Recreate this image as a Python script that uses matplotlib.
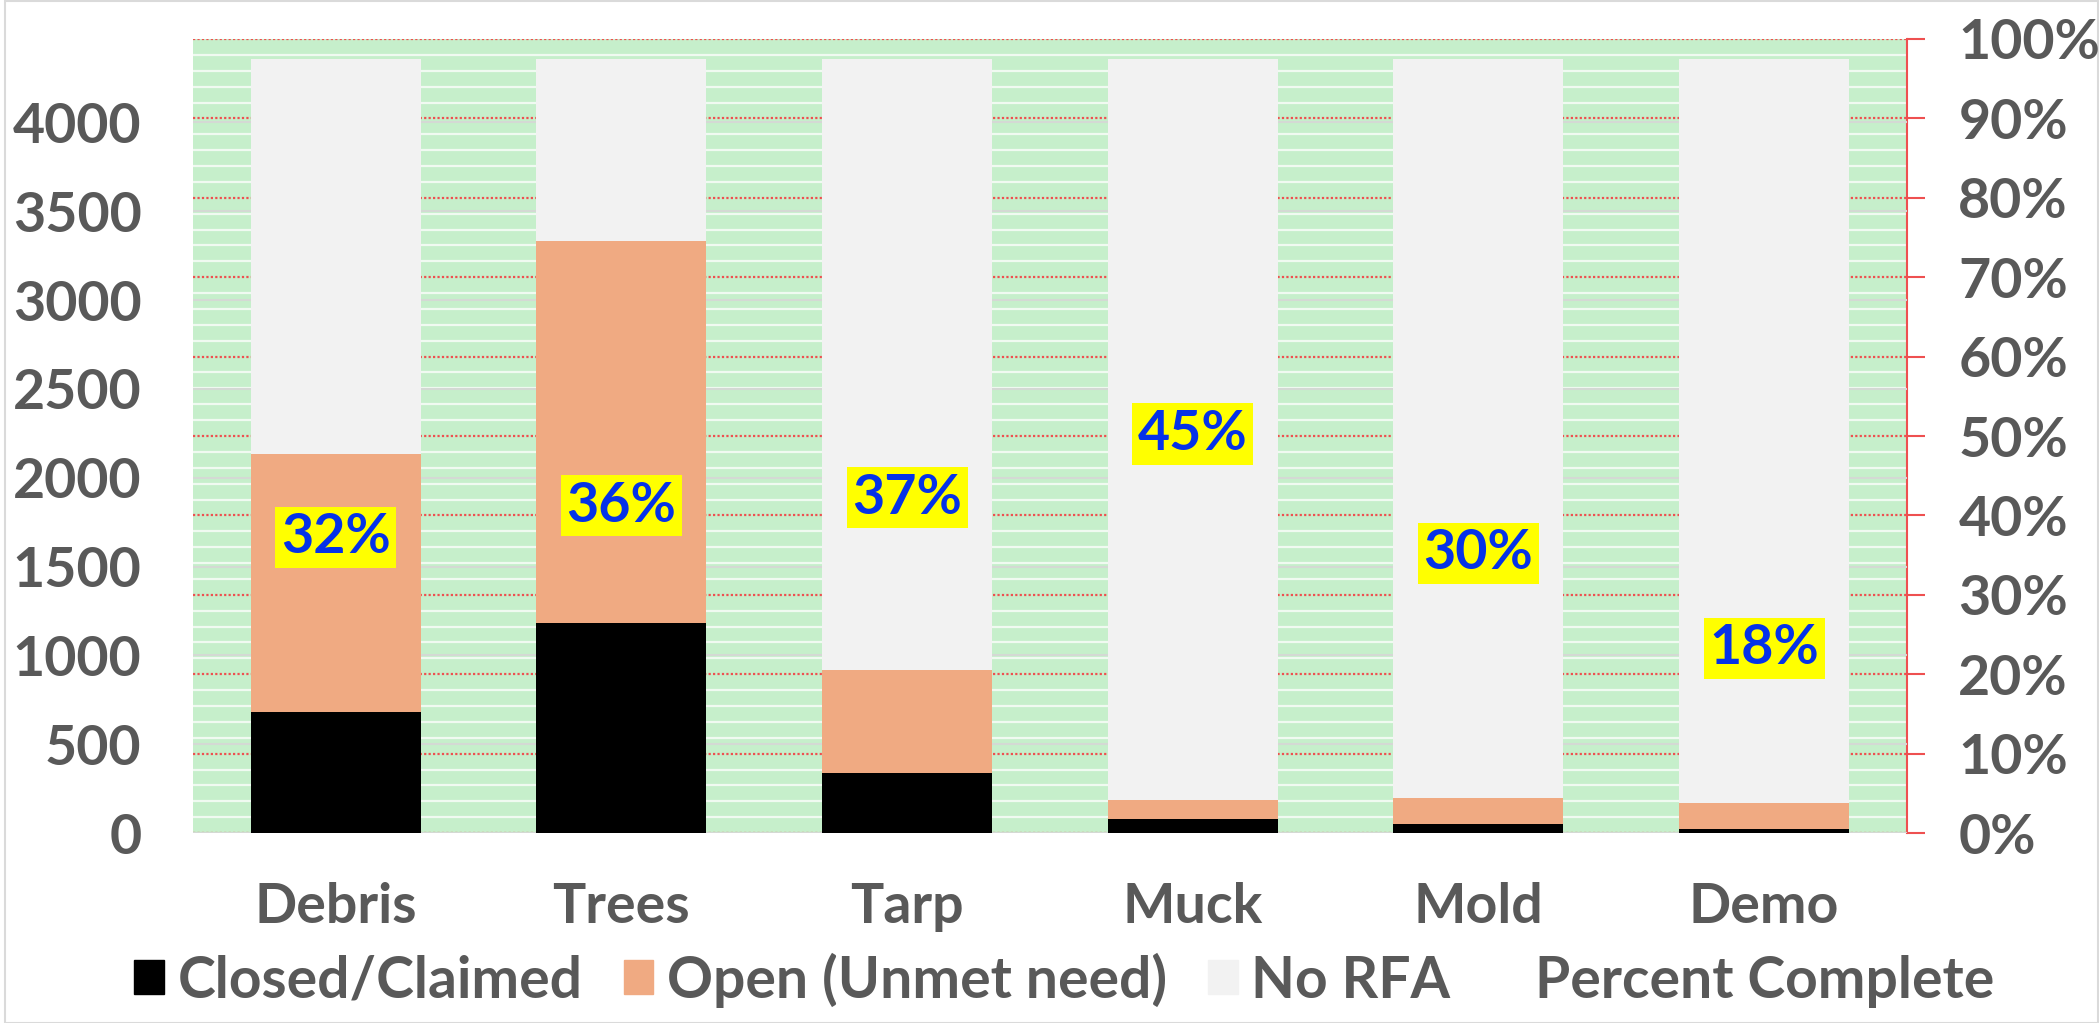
import matplotlib
matplotlib.use("Agg")
import matplotlib.pyplot as plt
import numpy as np
from matplotlib.lines import Line2D
from matplotlib.patches import Patch, Rectangle
from matplotlib.ticker import MultipleLocator, PercentFormatter

# values
categories = ["Debris", "Trees", "Tarp", "Muck", "Mold", "Demo"]
closed = [682, 1185, 336, 81, 53, 21]
open_need = [1449, 2148, 581, 103, 143, 146]
total_homes = 4355
percent_complete = [0.32, 0.36, 0.37, 0.45, 0.30, 0.18]
percent_labels = ["32%", "36%", "37%", "45%", "30%", "18%"]
legend_labels = ["Closed/Claimed", "Open (Unmet need)", "No RFA", "Percent Complete"]

closed = np.array(closed)
open_need = np.array(open_need)
no_rfa = total_homes - closed - open_need

GREY = "#595959"
RED = "#ee5050"
FS = 40

plt.rcParams["font.family"] = ["Lato", "DejaVu Sans"]
plt.rcParams["font.weight"] = "bold"

fig = plt.figure(figsize=(20.99, 10.23), dpi=100)
ax = fig.add_axes([0.0919, 0.1857, 0.8166, 0.7762])
ax2 = ax.twinx()

# percent axis sits behind and carries the green fill + stripes
ax.set_zorder(2)
ax2.set_zorder(1)
ax.patch.set_visible(False)
ax2.patch.set_visible(True)
ax2.patch.set_facecolor("#c6efcb")

x = np.arange(len(categories))
w = 0.595
ax.bar(x, closed, w, color="black", zorder=3)
ax.bar(x, open_need, w, bottom=closed, color="#f0aa82", zorder=3)
ax.bar(x, no_rfa, w, bottom=closed + open_need, color="#f2f2f2", zorder=3)

ax.set_xlim(-0.5, len(categories) - 0.5)
ax.set_ylim(0, 4470)
ax.yaxis.set_major_locator(MultipleLocator(500))
ax.set_xticks(x, categories)
ax.tick_params(axis="x", length=0, pad=35, labelsize=FS, labelcolor=GREY)
ax.tick_params(axis="y", length=0, pad=37, labelsize=FS, labelcolor=GREY)
ax.grid(axis="y", color="#d4d9d4", lw=1.5, zorder=0)
ax.set_axisbelow(True)
ax.yaxis.get_gridlines()[0].set_visible(False)
for s in ax.spines.values():
    s.set_visible(False)

ax2.set_ylim(0, 1)
ax2.yaxis.set_major_locator(MultipleLocator(0.1))
ax2.yaxis.set_minor_locator(MultipleLocator(0.02))
ax2.yaxis.set_major_formatter(PercentFormatter(1.0, decimals=0))
ax2.grid(which="minor", axis="y", color="white", lw=1.6, alpha=0.75)
ax2.grid(which="major", axis="y", color=RED, lw=1.6, ls=(0, (1, 1)))
ax2.tick_params(axis="y", which="major", length=13, width=1.5, color=RED,
                pad=24, labelsize=FS, labelcolor=GREY)
ax2.tick_params(axis="y", which="minor", length=0)
for side in ("left", "top", "bottom"):
    ax2.spines[side].set_visible(False)
ax2.spines["right"].set_color(RED)
ax2.spines["right"].set_linewidth(1.5)

# percent complete labels, drawn on the front axes so bars don't hide them
for i, (p, lab) in enumerate(zip(percent_complete, percent_labels)):
    ax.annotate(lab, xy=(x[i], p), xycoords=ax2.transData,
                xytext=(0, 30), textcoords="offset points",
                ha="center", va="center", fontsize=FS, color="#0532e8",
                bbox=dict(boxstyle="square,pad=0.1", fc="#ffff00", ec="none"),
                zorder=10)

handles = [Patch(color="black"), Patch(color="#f0aa82"), Patch(color="#f2f2f2"),
           Line2D([], [], ls="none")]
fig.legend(handles, legend_labels, loc="center", bbox_to_anchor=(0.507, 0.042),
           ncol=4, frameon=False, fontsize=41, labelcolor=GREY,
           handlelength=0.52, handleheight=0.54, handletextpad=0.24,
           columnspacing=0.72)

fig.add_artist(Rectangle((0.0025, 0.0), 0.997, 0.999, transform=fig.transFigure,
                         fill=False, ec="#dadada", lw=1.5))

fig.savefig("out.png", dpi=100)
